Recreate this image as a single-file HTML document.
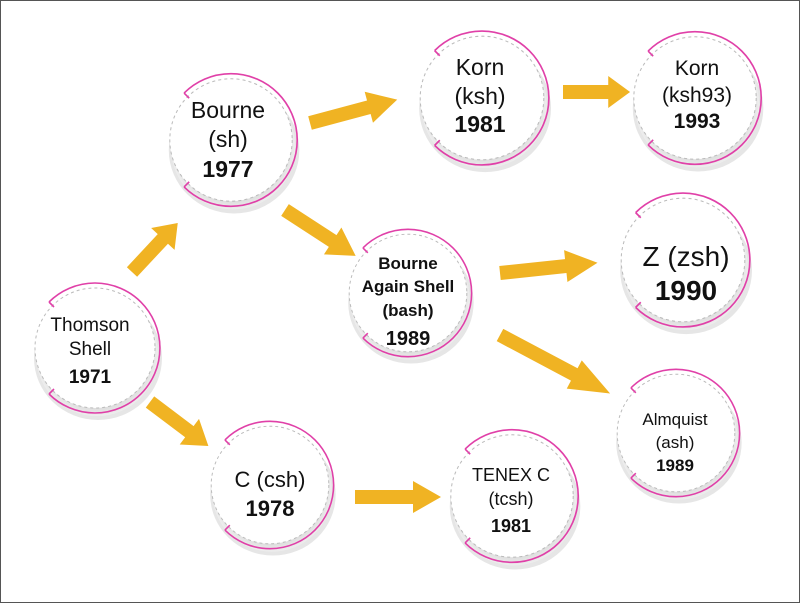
<!DOCTYPE html>
<html><head><meta charset="utf-8"><style>
html,body{margin:0;padding:0;background:#fff}
svg{display:block}
text{font-family:"Liberation Sans",Arial,sans-serif;fill:#111;text-anchor:middle}
.b{font-weight:bold}
</style></head><body>
<svg width="800" height="603" viewBox="0 0 800 603" xmlns="http://www.w3.org/2000/svg">
<defs>
<radialGradient id="sh" cx="50%" cy="50%" r="50%">
<stop offset="70%" stop-color="#c8c8c8"/><stop offset="100%" stop-color="#eeeeee"/>
</radialGradient>
<g id="node">
<ellipse cx="3" cy="10" rx="64" ry="62" fill="#e6e6e6"/>
<circle cx="2" cy="7" r="61" fill="url(#sh)"/>
<circle cx="0" cy="0" r="60" fill="#fff"/>
<circle cx="0" cy="0" r="60" fill="none" stroke="#bbb" stroke-width="1" stroke-dasharray="3,3"/>
<path d="M-46,-46 A65,65 0 1 1 -46,46" fill="none" stroke="#e040a8" stroke-width="1.6"/>
<path d="M-46,-46 L-41,-41 M-46,46 L-41,41" stroke="#e040a8" stroke-width="1.6"/>
</g>
<g id="arr"><polygon points="0,-7 58,-7 58,-16 86,0 58,16 58,7 0,7" fill="#f0b323"/></g>
</defs>
<rect x="0.5" y="0.5" width="799" height="602" fill="#fff" stroke="#555"/>

<!-- arrows -->
<use href="#arr" transform="translate(132,272) rotate(-47) scale(0.78,1)"/>
<use href="#arr" transform="translate(150,402) rotate(37) scale(0.85,1)"/>
<use href="#arr" transform="translate(310,123) rotate(-15) scale(1.05,1)"/>
<use href="#arr" transform="translate(285,210) rotate(33) scale(0.98,1)"/>
<use href="#arr" transform="translate(563,92) rotate(0) scale(0.78,1)"/>
<use href="#arr" transform="translate(500,273) rotate(-6) scale(1.14,1)"/>
<use href="#arr" transform="translate(500,335) rotate(28) scale(1.45,1)"/>
<use href="#arr" transform="translate(355,497) rotate(0) scale(1.0,1)"/>

<!-- nodes -->
<use href="#node" transform="translate(95,348) scale(1.0)"/>
<use href="#node" transform="translate(231,140) scale(1.02)"/>
<use href="#node" transform="translate(482,98) scale(1.03)"/>
<use href="#node" transform="translate(695,98) scale(1.02)"/>
<use href="#node" transform="translate(408,293) scale(0.98)"/>
<use href="#node" transform="translate(683,260) scale(1.03)"/>
<use href="#node" transform="translate(676,433) scale(0.98)"/>
<use href="#node" transform="translate(270,485) scale(0.98)"/>
<use href="#node" transform="translate(512,496) scale(1.02)"/>

<!-- labels -->
<text x="90" y="331" font-size="19">Thomson</text>
<text x="90" y="355" font-size="19">Shell</text>
<text x="90" y="383" font-size="19" class="b">1971</text>

<text x="228" y="118" font-size="23">Bourne</text>
<text x="228" y="147" font-size="23">(sh)</text>
<text x="228" y="177" font-size="23" class="b">1977</text>

<text x="480" y="75" font-size="23">Korn</text>
<text x="480" y="104" font-size="23">(ksh)</text>
<text x="480" y="132" font-size="23" class="b">1981</text>

<text x="697" y="75" font-size="21">Korn</text>
<text x="697" y="102" font-size="21">(ksh93)</text>
<text x="697" y="128" font-size="21" class="b">1993</text>

<text x="408" y="269" font-size="17" class="b">Bourne</text>
<text x="408" y="292" font-size="17" class="b">Again Shell</text>
<text x="408" y="316" font-size="17" class="b">(bash)</text>
<text x="408" y="345" font-size="20" class="b">1989</text>

<text x="686" y="266" font-size="28">Z (zsh)</text>
<text x="686" y="300" font-size="28" class="b">1990</text>

<text x="675" y="425" font-size="17">Almquist</text>
<text x="675" y="448" font-size="17">(ash)</text>
<text x="675" y="471" font-size="17" class="b">1989</text>

<text x="270" y="487" font-size="22">C (csh)</text>
<text x="270" y="516" font-size="22" class="b">1978</text>

<text x="511" y="481" font-size="18">TENEX C</text>
<text x="511" y="505" font-size="18">(tcsh)</text>
<text x="511" y="532" font-size="18" class="b">1981</text>
</svg>
</body></html>
